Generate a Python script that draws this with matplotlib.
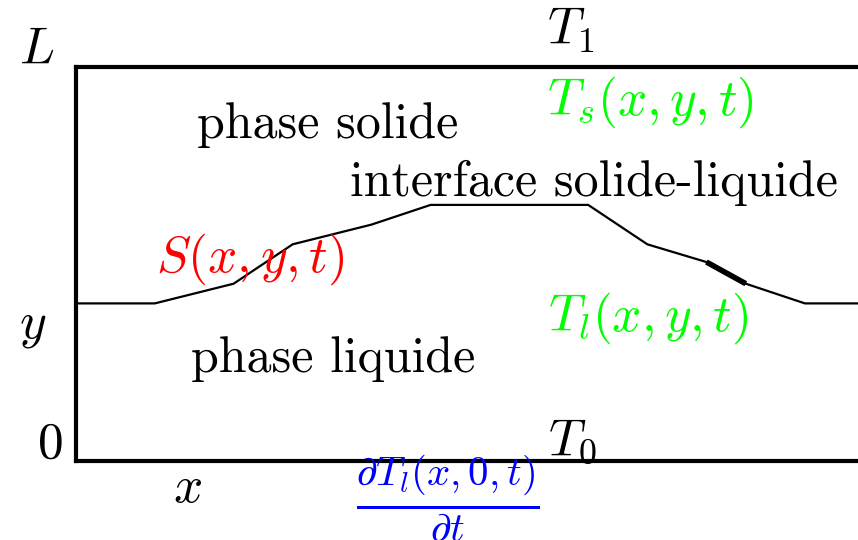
import matplotlib
matplotlib.use("Agg")
import matplotlib.pyplot as plt

plt.rcParams['mathtext.fontset'] = 'cm'

# Domain (units)
box_left = 0.0
box_right = 20.0
box_bottom = 0.0
box_top = 10.0

# Interface S(x,y,t)
interface_x = [0.0, 2.0, 4.0, 5.5, 7.5, 9.0, 13.0, 14.5, 16.0, 17.0, 18.5, 20.0]
interface_y = [4.0, 4.0, 4.5, 5.5, 6.0, 6.5, 6.5, 5.5, 5.05, 4.5, 4.0, 4.0]
thick_x = [16.0, 17.0]
thick_y = [5.05, 4.5]

fig = plt.figure(figsize=(8.58, 5.40), dpi=100)
ax = fig.add_axes([0, 0, 1, 1])
ax.set_xlim(-76 / 39.4, 782 / 39.4)
ax.set_ylim(-79 / 39.4, 461 / 39.4)
ax.axis('off')

lw_box = 3.0
ax.plot([box_left, box_left], [box_bottom, box_top], color='black', lw=lw_box, solid_capstyle='projecting')
ax.plot([box_left, box_right], [box_top, box_top], color='black', lw=lw_box, solid_capstyle='projecting')
ax.plot([box_left, box_right], [box_bottom, box_bottom], color='black', lw=lw_box, solid_capstyle='projecting')

ax.plot(interface_x, interface_y, color='black', lw=1.6)
ax.plot(thick_x, thick_y, color='black', lw=4.0, solid_capstyle='butt')

fs = 37
fst = 36
cm = 'cmr10'
ax.text(-0.99, 10.43, r'$L$', fontsize=fs, ha='center', va='center')
ax.text(-1.1, 3.45, r'$y$', fontsize=fs, ha='center', va='center')
ax.text(-0.66, 0.43, r'$0$', fontsize=fs, ha='center', va='center')
ax.text(2.84, -0.69, r'$x$', fontsize=fs, ha='center', va='center')
ax.text(12.56, 10.94, r'$T_1$', fontsize=fs, ha='center', va='center')
ax.text(14.57, 9.11, r'$T_s(x,y,t)$', fontsize=fs, ha='center', va='center', color=(0, 1, 0))
ax.text(6.4, 8.53, 'phase solide', fontsize=fst, ha='center', va='center', family=cm)
ax.text(13.15, 7.06, 'interface solide-liquide', fontsize=fst, ha='center', va='center', family=cm)
ax.text(4.42, 5.13, r'$S(x,y,t)$', fontsize=fs, ha='center', va='center', color=(1, 0, 0))
ax.text(14.52, 3.63, r'$T_l(x,y,t)$', fontsize=fs, ha='center', va='center', color=(0, 1, 0))
ax.text(6.52, 2.59, 'phase liquide', fontsize=fst, ha='center', va='center', family=cm)
ax.text(12.59, 0.51, r'$T_0$', fontsize=fs, ha='center', va='center')
ax.text(9.44, -0.96, r'$\frac{\partial T_l(x,0,t)}{\partial t}$', fontsize=42, ha='center', va='center', color=(0, 0, 1))

fig.savefig('out.png', dpi=100)
